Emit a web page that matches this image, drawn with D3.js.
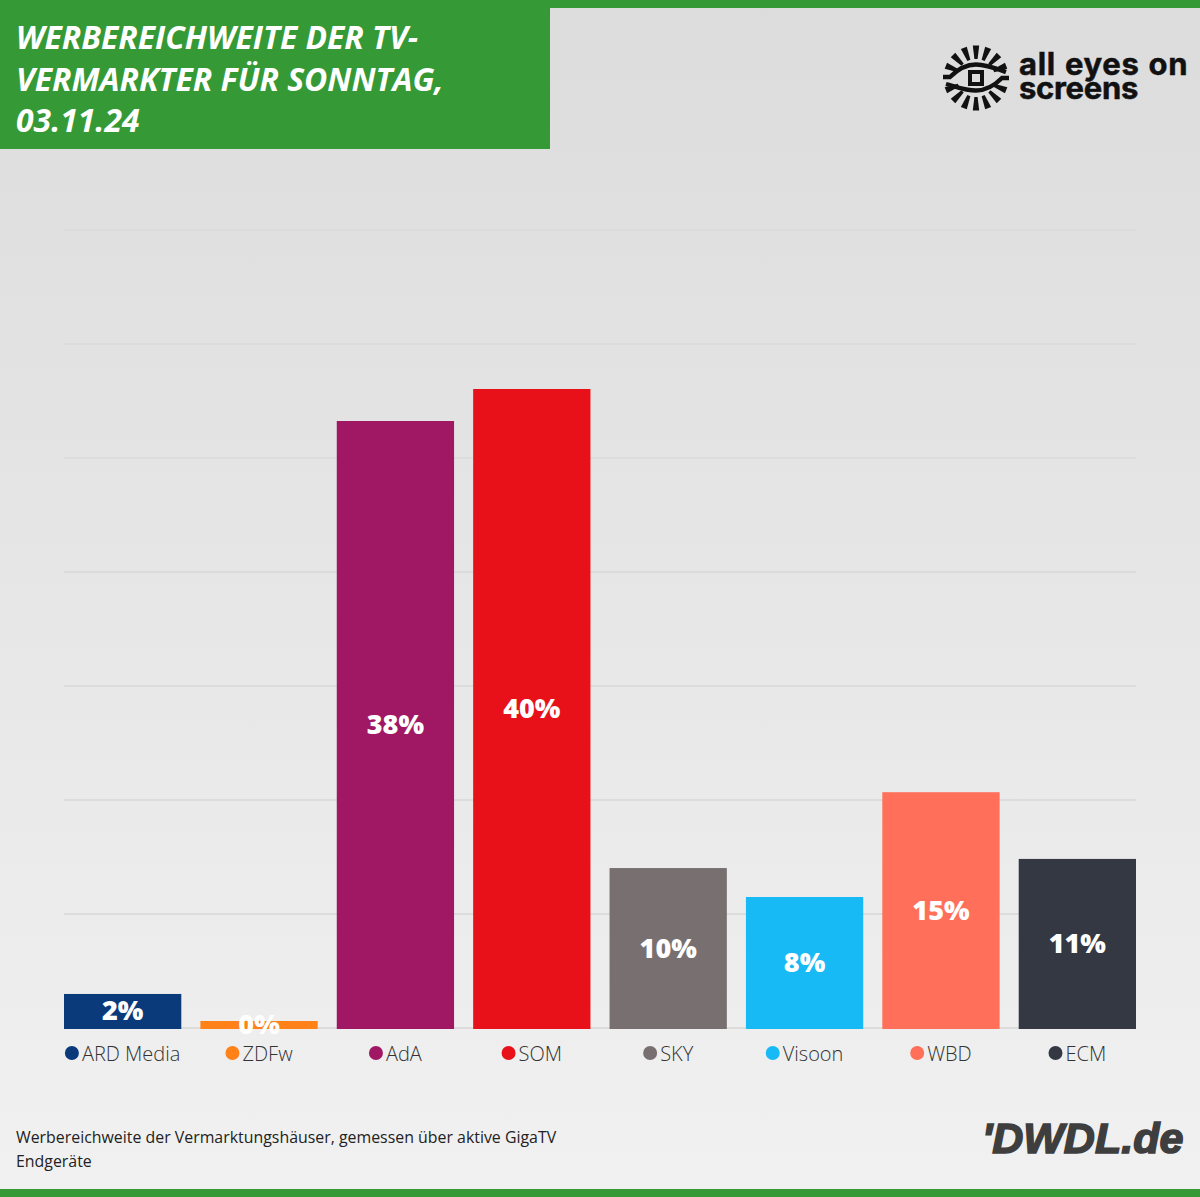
<!DOCTYPE html>
<html>
<head>
<meta charset="utf-8">
<script src="https://cdnjs.cloudflare.com/ajax/libs/d3/7.8.5/d3.min.js"></script>
<style>
html, body { margin: 0; padding: 0; background: #eee; }
svg { display: block; font-family: "Open Sans", sans-serif; }
</style>
</head>
<body>
<script>
// values, in percent
const categories = ["ARD Media", "ZDFw", "AdA", "SOM", "SKY", "Visoon", "WBD", "ECM"];
const reach = [2.19, 0.5, 38, 40, 10.06, 8.25, 14.8, 10.63];
const barColors = ["#0a3a7a", "#ff8118", "#a01763", "#e8111a", "#787070", "#18baf6", "#ff6f5a", "#343843"];
const gridValues = [0.0625, 7.1875, 14.3125, 21.4375, 28.5625, 35.6875, 42.8125, 49.9375];
const titleLines = ["WERBEREICHWEITE DER TV-", "VERMARKTER FÜR SONNTAG,", "03.11.24"];
const noteLines = ["Werbereichweite der Vermarktungshäuser, gemessen über aktive GigaTV", "Endgeräte"];
const logoLines = ["all eyes on", "screens"];

const width = 1200, height = 1197;
const green = "#359a35";

const svg = d3.select("body").append("svg")
    .attr("width", width)
    .attr("height", height);

const grad = svg.append("defs").append("linearGradient")
    .attr("id", "bg")
    .attr("x1", 0).attr("x2", 0).attr("y1", 0).attr("y2", 1);
grad.append("stop").attr("offset", 0).attr("stop-color", "#dcdcdc");
grad.append("stop").attr("offset", 1).attr("stop-color", "#f1f1f1");

svg.append("rect").attr("width", width).attr("height", height).attr("fill", "url(#bg)");
svg.append("rect").attr("width", width).attr("height", 8).attr("fill", green);
svg.append("rect").attr("y", 1189).attr("width", width).attr("height", 8).attr("fill", green);
svg.append("rect").attr("width", 550).attr("height", 149).attr("fill", green);

svg.selectAll(".title")
    .data(titleLines)
    .enter().append("text")
    .attr("class", "title")
    .attr("x", 16)
    .attr("y", (d, i) => 49 + i * 41.5)
    .attr("fill", "#fff")
    .attr("font-size", 31.9)
    .attr("font-weight", 700)
    .attr("font-style", "italic")
    .text(d => d);

// chart
const x = d3.scaleBand()
    .domain(categories)
    .range([64, 1136])
    .paddingInner(0.14)
    .paddingOuter(0);

const y = d3.scaleLinear()
    .domain([0, 50])
    .range([1029, 229]);

svg.selectAll(".grid")
    .data(gridValues)
    .enter().append("line")
    .attr("class", "grid")
    .attr("x1", 64)
    .attr("x2", 1136)
    .attr("y1", d => y(d))
    .attr("y2", d => y(d))
    .attr("stroke", "#dcdcdc")
    .attr("stroke-width", 2);

svg.selectAll(".bar")
    .data(categories)
    .enter().append("rect")
    .attr("class", "bar")
    .attr("x", d => x(d))
    .attr("width", x.bandwidth())
    .attr("y", (d, i) => y(reach[i]))
    .attr("height", (d, i) => y(0) - y(reach[i]))
    .attr("fill", (d, i) => barColors[i]);

svg.selectAll(".val")
    .data(categories)
    .enter().append("text")
    .attr("class", "val")
    .attr("x", d => x(d) + x.bandwidth() / 2)
    .attr("y", (d, i) => (y(reach[i]) + y(0)) / 2 + 9)
    .attr("text-anchor", "middle")
    .attr("fill", "#fff")
    .attr("font-size", 27)
    .attr("font-weight", 800)
    .text((d, i) => Math.floor(reach[i] + 0.49) + "%");

// legend: marker and label centred together under each bar
const legend = svg.selectAll(".leg")
    .data(categories)
    .enter().append("g")
    .attr("class", "leg");

legend.append("text")
    .attr("y", 1061)
    .attr("fill", "#333")
    .attr("font-size", 20)
    .attr("font-weight", 300)
    .text(d => d);

legend.each(function(d) {
    const g = d3.select(this);
    const t = g.select("text");
    const w = t.node().getComputedTextLength();
    const left = x(d) + x.bandwidth() / 2 - (w + 17) / 2;
    t.attr("x", left + 17);
    g.append("circle")
        .attr("cx", left + 7)
        .attr("cy", 1053)
        .attr("r", 7)
        .attr("fill", barColors[categories.indexOf(d)]);
});

svg.selectAll(".note")
    .data(noteLines)
    .enter().append("text")
    .attr("class", "note")
    .attr("x", 16)
    .attr("y", (d, i) => 1143 + i * 24)
    .attr("fill", "#222")
    .attr("font-size", 15.9)
    .text(d => d);

// all eyes on screens logo
const eye = svg.append("g").attr("transform", "translate(976,78)");
const rayAngles = [-68, -45, -22, 0, 22, 45, 68];

// tapered ray, narrow at the lid and wide at the outer end
function rayPath(deg, side) {
    const a = deg * Math.PI / 180;
    const ux = Math.sin(a), uy = -side * Math.cos(a);
    const px = -uy, py = ux;
    const pt = (r, w) => [ux * r + px * w, uy * r + py * w].join(",");
    return "M" + pt(19, 1.6) + "L" + pt(32.5, 3.2) + "L" + pt(32.5, -3.2) + "L" + pt(19, -1.6) + "Z";
}

[1, -1].forEach(side => {
    eye.selectAll(null)
        .data(rayAngles)
        .enter().append("path")
        .attr("d", d => rayPath(d, side))
        .attr("fill", "#111");
});
eye.append("path")
    .attr("d", "M-33,-1 L-26,-1 C-18,-9 -9,-13.5 0,-13.5 C10,-13.5 19,-10 30,-6 M33,0 L26,0 C18,8 9,12.5 0,12.5 C-10,12.5 -19,9 -30,6")
    .attr("fill", "none")
    .attr("stroke", "#111")
    .attr("stroke-width", 4.4);
eye.append("rect")
    .attr("x", -6).attr("y", -6).attr("width", 12).attr("height", 12)
    .attr("fill", "none")
    .attr("stroke", "#111")
    .attr("stroke-width", 4);

svg.selectAll(".logo")
    .data(logoLines)
    .enter().append("text")
    .attr("class", "logo")
    .attr("x", 1019)
    .attr("y", (d, i) => 75 + i * 24)
    .attr("fill", "#111")
    .attr("stroke", "#111")
    .attr("stroke-width", 0.5)
    .attr("font-family", "Inter, sans-serif")
    .attr("font-size", 31)
    .attr("font-weight", 700)
    .attr("letter-spacing", (d, i) => i == 0 ? 0.7 : -0.3)
    .attr("word-spacing", 1)
    .text(d => d);

// DWDL wordmark
svg.append("text")
    .attr("x", 982)
    .attr("y", 1153)
    .attr("fill", "#3e3e3e")
    .attr("stroke", "#3e3e3e")
    .attr("stroke-width", 1.6)
    .attr("font-family", "Liberation Sans, sans-serif")
    .attr("font-size", 43)
    .attr("font-weight", 700)
    .attr("font-style", "italic")
    .text("'DWDL.de");
</script>
</body>
</html>
